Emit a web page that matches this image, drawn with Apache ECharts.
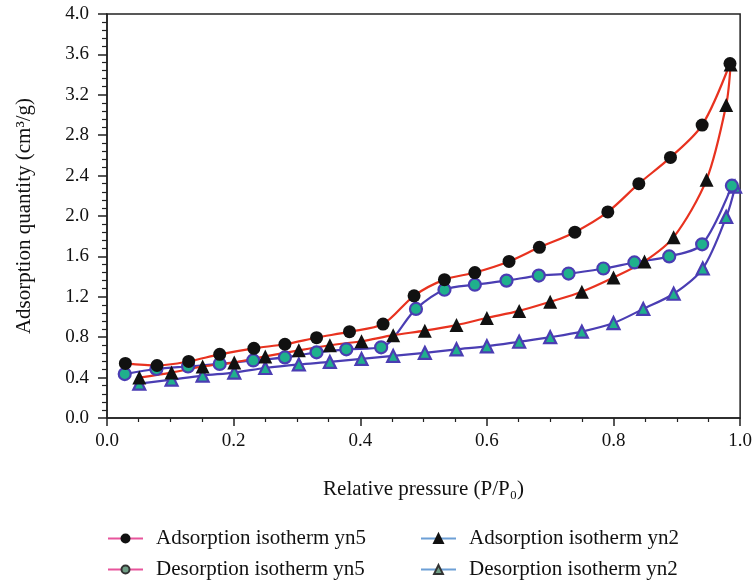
<!DOCTYPE html>
<html>
<head>
<meta charset="utf-8">
<script src="https://cdn.jsdelivr.net/npm/echarts@6/dist/echarts.min.js"></script>
<style>html,body{margin:0;padding:0;background:#fff}#c{width:755px;height:584px}</style>
</head>
<body>
<div id="c"></div>
<script>
// Data
const yn5AdsX = [0.029,0.079,0.129,0.178,0.232,0.281,0.331,0.383,0.436,0.485,0.533,0.581,0.635,0.683,0.739,0.791,0.840,0.890,0.940,0.984];
const yn5AdsY = [0.54,0.52,0.56,0.63,0.69,0.73,0.795,0.855,0.93,1.21,1.37,1.44,1.55,1.69,1.84,2.04,2.32,2.58,2.90,3.51];
const yn5DesX = [0.028,0.078,0.128,0.178,0.231,0.281,0.331,0.378,0.433,0.488,0.533,0.581,0.631,0.682,0.729,0.784,0.833,0.888,0.940,0.987];
const yn5DesY = [0.435,0.485,0.51,0.535,0.57,0.60,0.65,0.68,0.70,1.08,1.27,1.32,1.36,1.41,1.43,1.48,1.54,1.60,1.72,2.30];
const yn2AdsX = [0.051,0.102,0.151,0.201,0.25,0.303,0.352,0.402,0.452,0.502,0.552,0.60,0.651,0.70,0.75,0.80,0.849,0.895,0.947,0.978,0.985];
const yn2AdsY = [0.40,0.45,0.51,0.55,0.61,0.67,0.72,0.76,0.82,0.865,0.92,0.99,1.06,1.15,1.25,1.39,1.55,1.79,2.36,3.10,3.50];
const yn2DesX = [0.051,0.102,0.151,0.201,0.25,0.303,0.352,0.402,0.452,0.502,0.552,0.60,0.651,0.70,0.75,0.80,0.847,0.895,0.941,0.978,0.992];
const yn2DesY = [0.34,0.38,0.42,0.45,0.495,0.53,0.555,0.585,0.615,0.645,0.68,0.71,0.755,0.80,0.855,0.94,1.08,1.23,1.48,1.99,2.29];
const legendNames = ['Adsorption isotherm yn5','Desorption isotherm yn5','Adsorption isotherm yn2','Desorption isotherm yn2'];

const zip = (xs, ys) => xs.map((x, i) => [x, ys[i]]);
const FONT = '"Liberation Serif", "DejaVu Serif", serif';
const RED = '#e8321f', BLUE = '#4a3db3', GREEN = '#1fb08c';

const chart = echarts.init(document.getElementById('c'), null, {renderer: 'canvas'});

function dataSeries(name, pts, lineColor, symbol, fill, border, size, bw) {
  return {
    name: name, type: 'line', data: pts, smooth: 0.3,
    symbol: symbol, symbolSize: size,
    lineStyle: {color: lineColor, width: 2.2},
    itemStyle: {color: fill, borderColor: border, borderWidth: bw, opacity: 1},
    emphasis: {disabled: true}, z: 3
  };
}
function legendSeries(name, lineColor, symbol, fill, border) {
  return {
    name: name, type: 'line', data: [], symbol: symbol,
    lineStyle: {color: lineColor, width: 1.5},
    itemStyle: {color: fill, borderColor: border, borderWidth: 1}
  };
}
function legendItem(name, left, top, h) {
  return {data: [name], left: left, top: top, itemWidth: 35, itemHeight: h, padding: 0,
    textStyle: {fontFamily: FONT, fontSize: 21, color: '#111', padding: [0,0,0,8]}};
}

chart.setOption({
  animation: false,
  backgroundColor: '#fff',
  grid: {left: 107, right: 14, top: 14, bottom: 166, show: true, borderColor: '#222', borderWidth: 1.5, backgroundColor: 'transparent'},
  legend: [
    legendItem(legendNames[0], 107, 528, 10),
    legendItem(legendNames[1], 107, 559, 10),
    legendItem(legendNames[2], 420, 528, 11),
    legendItem(legendNames[3], 420, 559, 11)
  ],
  xAxis: {
    type: 'value', min: 0, max: 1, interval: 0.2,
    name: 'Relative pressure (P/P₀)', nameLocation: 'middle', nameGap: 61,
    nameTextStyle: {fontFamily: FONT, fontSize: 21, color: '#111'},
    axisLine: {show: true, lineStyle: {color: '#222', width: 1.5}},
    axisTick: {show: true, inside: false, length: 8, lineStyle: {color: '#222', width: 1.5}},
    minorTick: {show: true, splitNumber: 4, length: 4, lineStyle: {color: '#222', width: 1.2}},
    splitLine: {show: false},
    axisLabel: {fontFamily: FONT, fontSize: 19, color: '#111', margin: 14, formatter: v => v.toFixed(1)}
  },
  yAxis: {
    type: 'value', min: 0, max: 4, interval: 0.4,
    name: 'Adsorption quantity (cm³/g)', nameLocation: 'middle', nameGap: 72, nameRotate: 90,
    nameTextStyle: {fontFamily: FONT, fontSize: 21, color: '#111'},
    axisLine: {show: true, lineStyle: {color: '#222', width: 1.5}},
    axisTick: {show: true, inside: false, length: 9, lineStyle: {color: '#222', width: 1.5}},
    minorTick: {show: true, splitNumber: 5, length: 5, lineStyle: {color: '#222', width: 1.2}},
    splitLine: {show: false},
    axisLabel: {fontFamily: FONT, fontSize: 19, color: '#111', margin: 18, formatter: v => v.toFixed(1)}
  },
  series: [
    legendSeries(legendNames[0], '#e8559c', 'circle', '#111', '#111'),
    legendSeries(legendNames[1], '#e8559c', 'circle', '#6f9e85', '#333'),
    legendSeries(legendNames[2], '#6d9fd6', 'triangle', '#111', '#111'),
    legendSeries(legendNames[3], '#6d9fd6', 'triangle', '#6f9e85', '#333'),
    dataSeries('yn2 desorption', zip(yn2DesX, yn2DesY), BLUE, 'triangle', GREEN, BLUE, 12, 2.2),
    dataSeries('yn5 desorption', zip(yn5DesX, yn5DesY), BLUE, 'circle', GREEN, BLUE, 12, 2.2),
    dataSeries('yn2 adsorption', zip(yn2AdsX, yn2AdsY), RED, 'triangle', '#111', '#111', 14, 0),
    dataSeries('yn5 adsorption', zip(yn5AdsX, yn5AdsY), RED, 'circle', '#111', '#111', 13, 0)
  ]
});
</script>
</body>
</html>
